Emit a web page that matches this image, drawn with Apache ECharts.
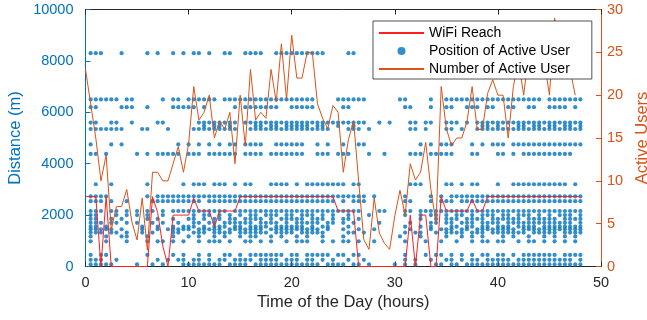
<!DOCTYPE html>
<html><head><meta charset="utf-8">
<script src="https://cdn.jsdelivr.net/npm/echarts@6.0.0/dist/echarts.min.js"></script>
<style>html,body{margin:0;padding:0;background:#fff}#c{width:647px;height:320px}</style>
</head><body><div id="c"></div>
<script>
// time slots (hours)
const slotHours = [0,0.5,1,1.5,2,2.5,3,3.5,4,4.5,5,5.5,6,6.5,7,7.5,8,8.5,9,9.5,
  10,10.5,11,11.5,12,12.5,13,13.5,14,14.5,15,15.5,16,16.5,17,17.5,18,18.5,19,19.5,
  20,20.5,21,21.5,22,22.5,23,23.5,24,24.5,25,25.5,26,26.5,27,27.5,28,28.5,29,29.5,
  30,30.5,31,31.5,32,32.5,33,33.5,34,34.5,35,35.5,36,36.5,37,37.5,38,38.5,39,39.5,
  40,40.5,41,41.5,42,42.5,43,43.5,44,44.5,45,45.5,46,46.5,47,47.5,48];
const xTicks = [0,10,20,30,40,50];
const leftTicks = [0,2000,4000,6000,8000,10000];
const rightTicks = [0,5,10,15,20,25,30];

// distance levels (m) of user positions
const distanceLevels = [8300,6500,6200,5600,5470,5350,4750,4380,3200,2730,2540,2160,2000,1850,1700,1550,1450,1320,1170,980,450,260,80];
// presence of a user at each slot ('x'), blocks of 5 hours separated by '|'
const positionMasks = [
  '.xxx...x..|..x.x..x.x|.xx.x..xx.|.xxxx..xxx|xxxxxxx...|.xx.......|..........|..........|..........|.......',
  '.xxxxxx.xx|.....x.xx.|xxxxxx.xxx|xxxxxxxxxx|xxxxx....x|xxxxx.....|.xx....x..|xxxxxxxxxx|xxxxxxxxx.|xxxxxxx',
  '.xx....xxx|..x....xxx|xx.x.....x|.xxxxxxx..|xxxxx.....|xx........|..xx...x..|xx..xxx.xx|..xx..xx..|xxxx.x.',
  '.xx..xx..x|....xx....|..xxxxxxxx|.xxxxxxxxx|xxxxxxxxxx|xxxxx..x.x|...xx.xx..|xxx.x.xxxx|xxxxxxxxxx|xxxxxxx',
  '..........|..........|...x.xx.x.|...xx.xx.x|xxxx.xx..x|..x.......|..........|.......xx.|x...xx.xx.|xx.xx.x',
  '.xxxxxxx..|.xx...x...|.xxxxxxxxx|..xxxxxxxx|xxxxxxxx..|.xxx.x....|...xx.x...|xx.x..xxxx|xxxxxxxxxx|xxxxxxx',
  '.x...x.x..|........x.|x.x.x.x.xx|.xxxx..xxx|xxx..x.x..|x..xx.....|.....x.x.x|xx...x.x.x|xx.xxxxxxx|xxxxxxx',
  '.xx.x.....|x.x.xxxxx.|xxx.xxxxxx|.xxxx.xxxx|xxx..xxx.x|xx...x..x.|...xxx.xxx|xx...xx...|xx.x.xxxxx|xxxxx..',
  '..x..x....|..x......x|.xxx.xxx.x|.xx...xxxx|.x.xxxxxxx|x.xx......|...xxx....|xx.x.xx...|x..xxxxxxx|xxxx.x.',
  '.xxxx.....|..x.xxxxxx|xxxxxxxxxx|xxxxxxxxxx|xxxxxxxxxx|xxxxx.x...|..x....x.x|.xxxxxxxxx|xxxxxxxxxx|xxxxxxx',
  '.xxx.x..x.|...xxxxxxx|xxx.xxxxxx|xxxxxxxxxx|xxxxxxxxx.|x.xxx.....|..xx...x.x|xx.xxxxxxx|xxxxxxxxxx|xxxxxxx',
  '.xxx.xx.x.|x.xx.x.xxx|xxxxxxxx.x|xxxxxxxxxx|xxxxxxxxxx|xxxx...xx.|..xx.xxxxx|xxxxxxxxxx|xxxxxxxxxx|xxxxxxx',
  '.xx...x.x.|x.x..x....|.x.xx.x.x.|x.xx.xxx.x|x.xxx.x.x.|.x...x....|..x..x.xx.|x.xx.x.xxx|.xx.xxx.x.|x.xxx.x',
  '.xx..x.x..|..x.x..x..|xx.x.xx.xx|.xxxx.x.xx|xxx.xxx.x.|xx.x......|.....x..x.|xxx.xxxx.x|xxxxx.xxxx|xx.xxxx',
  '.xxx.xx.x.|x..x.x..x.|.xx.xx.xxx|xxx.xxxx.x|.xxxxx.xx.|x.x....x..|...x...xx.|xx.xxx.xxx|x.xxxxxxxx|xxxxx.x',
  '.xx.x.....|.x..x..x.x|xx.x.xxx.x|x.xxxx.xxx|xxx.x.xx..|.x........|..x..x.x..|.xx.xx.xx.|xxx.xxxx.x|xxxxxxx',
  '.xxxxx.x..|.x..x.xxxx|x.xxxxx.xx|xxxxx.xxxx|xxxxxx.x..|x..x..x...|...x...x.x|xx.xx.xxxx|xxxx.xxxxx|xxxxxxx',
  '.xxx.xx.x.|.x.x...xx.|.xxx.xxxx.|xxxxxx.xxx|x.xxxxx...|.xx.x.....|..x.xx..x.|xxxx.xxx.x|xxxxxx.xxx|xx.xxxx',
  '.x..x..xx.|..x....x..|x.x..x.x..|x.xx..x.x.|.x.x..x...|x.........|.x...x....|x..x.x.x..|.x.x..x..x|.x.x.x.',
  '.x..x...x.|..x.xx.x.x|..x.xxx.x.|.xx.x.x..x|.xxx..x.x.|xx.x..x...|..x...x..x|..x..x.xx.|xx..x.xx.x|.x.x.x.',
  '.x.xx.....|..x....x.x|..x.x..xx.|x.xxxxxxx.|xx.xxxxx.x|x.xx......|..x...x.xx|.x.x.x.xx.|xx.x.xxxxx|xx.xxxx',
  '.xxx..x...|....x.x.xx|.xx.x.xx.x|xxx.xxxx.x|xx.xx.x.x.|.x..x.....|..x.x..x..|xx.x.xx.xx|xxx.xxxxxx|xxxxx.x',
  '.xxxxx....|x..x.x...x|xxxxxxx.xx|xx.xxxxxxx|xxxxxx.xxx|x.xx.x....|x.x.x...xx|.xx.xxxxxx|xxxxxxxxxx|xxxxxxx'
];

// WiFi reach (m) at each slot 0..48 h
const wifiReach = [2720,2720,2720,0,2720,0,0,0,0,0,
  0,0,0,2720,2100,800,0,2000,2000,2000,
  2000,2650,2160,2160,2160,1550,2160,2160,2160,2160,
  2720,2720,2720,2720,2720,2720,2720,2720,2720,2720,
  2720,2720,2720,2720,2720,2720,2720,2720,2720,2160,
  2160,2160,2160,0,0,0,0,0,0,0,
  0,0,0,2000,0,2000,2000,0,0,2720,
  2160,2160,2160,2160,2160,2620,2160,2160,2720,2720,
  2720,2720,2720,2720,2720,2720,2720,2720,2720,2720,
  2720,2720,2720,2720,2720,2720,2720];

// number of active users at each slot 0..47.5 h
const activeUsers = [23,19,15,10,13,4.3,7,7,9,5.2,
  3.1,8,1.9,11,11,10,10,12,14,11,
  14.3,21,17.1,18,20,15,17,16,18,12,
  20,14.1,23,17.1,18,17.3,23,19.2,26,19.5,
  27,22,22,25,25,19,17.3,16.1,18.8,18,
  11,14.8,17,9.9,3.1,2,8,3.9,2.7,2,
  5.9,8.9,6,12,10.1,11,14.5,9,5.1,21,
  16.1,14.1,15,15,16.9,21,16,16,20.2,21.8,
  20,20,15,21,24,20,25,23,26,24,
  20,29,24,22,23,20];

const positions = [];
distanceLevels.forEach((d, k) => {
  const m = positionMasks[k].replace(/\|/g, '');
  for (let i = 0; i < m.length; i++) if (m[i] === 'x') positions.push([slotHours[i], d]);
});
const reachData = wifiReach.map((v, i) => [slotHours[i], v]);
const usersData = activeUsers.map((v, i) => [slotHours[i], v]);

const font = "'Liberation Sans', Arial, Helvetica, sans-serif";
const BLUE = '#0072BD', ORANGE = '#D95319', DARK = '#262626';
const plain = v => String(v);
const chart = echarts.init(document.getElementById('c'), null, {renderer: 'canvas'});
chart.setOption({
  animation: false,
  textStyle: {fontFamily: font},
  grid: {left: 85.5, right: 46, top: 9.5, bottom: 53.5, containLabel: false, outerBoundsMode: 'none'},
  legend: {
    orient: 'vertical', left: 373, top: 21,
    padding: [5, 22, 3, 5], itemGap: 4, itemWidth: 45, itemHeight: 8,
    backgroundColor: '#fff', borderColor: DARK, borderWidth: 0.8, borderRadius: 0,
    textStyle: {fontSize: 14, color: '#000', fontFamily: font},
    data: [
      {name: 'WiFi Reach', itemStyle: {opacity: 0}},
      {name: 'Position of Active User'},
      {name: 'Number of Active User', itemStyle: {opacity: 0}}
    ]
  },
  xAxis: [{
    type: 'value', min: xTicks[0], max: xTicks[xTicks.length - 1], interval: 10, position: 'bottom',
    name: 'Time of the Day (hours)', nameLocation: 'middle', nameGap: 27, nameMoveOverlap: false,
    nameTextStyle: {fontSize: 16.5, color: DARK, fontFamily: font},
    axisLine: {onZero: false, lineStyle: {color: DARK, width: 1}},
    axisTick: {inside: true, length: 5, lineStyle: {color: DARK}},
    axisLabel: {fontSize: 14.5, color: DARK, margin: 9, fontFamily: font, formatter: plain},
    splitLine: {show: false}
  }, {
    type: 'value', min: xTicks[0], max: xTicks[xTicks.length - 1], interval: 10, position: 'top',
    axisLine: {show: true, onZero: false, lineStyle: {color: DARK, width: 1}},
    axisTick: {show: true, inside: true, length: 5, lineStyle: {color: DARK}},
    axisLabel: {show: false}, splitLine: {show: false}
  }],
  yAxis: [{
    type: 'value', min: leftTicks[0], max: leftTicks[leftTicks.length - 1], interval: 2000, position: 'left',
    name: 'Distance (m)', nameLocation: 'middle', nameRotate: 90, nameGap: 62, nameMoveOverlap: false,
    nameTextStyle: {fontSize: 16.5, color: BLUE, fontFamily: font},
    axisLine: {show: true, onZero: false, lineStyle: {color: BLUE, width: 1}},
    axisTick: {show: true, inside: true, length: 5, lineStyle: {color: BLUE}},
    axisLabel: {fontSize: 14.5, color: BLUE, margin: 12, fontFamily: font, formatter: plain},
    splitLine: {show: false}
  }, {
    type: 'value', min: rightTicks[0], max: rightTicks[rightTicks.length - 1], interval: 5, position: 'right',
    name: 'Active Users', nameLocation: 'middle', nameRotate: 90, nameGap: 22,
    nameTextStyle: {fontSize: 16.5, color: ORANGE, fontFamily: font},
    axisLine: {show: true, onZero: false, lineStyle: {color: ORANGE, width: 1}},
    axisTick: {show: true, inside: true, length: 5, lineStyle: {color: ORANGE}},
    axisLabel: {fontSize: 14.5, color: ORANGE, margin: 6, fontFamily: font, formatter: plain},
    splitLine: {show: false}
  }],
  series: [{
    name: 'Position of Active User', type: 'scatter', xAxisIndex: 0, yAxisIndex: 0,
    data: positions, symbol: 'circle', symbolSize: 4.2,
    itemStyle: {color: BLUE}
  }, {
    name: 'WiFi Reach', type: 'line', xAxisIndex: 0, yAxisIndex: 0,
    data: reachData, symbol: 'none', showSymbol: false,
    lineStyle: {color: '#FF1F1F', width: 1}, itemStyle: {color: '#FF1F1F'}
  }, {
    name: 'Number of Active User', type: 'line', xAxisIndex: 0, yAxisIndex: 1,
    data: usersData, symbol: 'none', showSymbol: false,
    lineStyle: {color: ORANGE, width: 1}, itemStyle: {color: ORANGE}
  }]
});
</script>
</body></html>
